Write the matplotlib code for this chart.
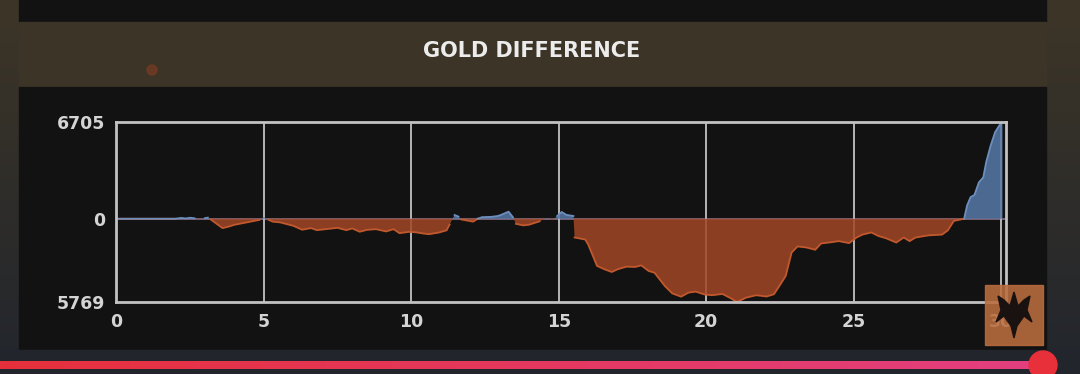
import numpy as np
import matplotlib.pyplot as plt
from matplotlib.patches import Rectangle, Circle, Polygon

# Gold difference (blue side minus red side) by game minute
minutes = [0, 2.0, 2.2, 2.35, 2.5, 2.65, 2.8, 3.0, 3.1, 3.2, 3.4, 3.6, 3.8, 4.0, 4.3, 4.6, 4.85,
           5.0, 5.15, 5.3, 5.55, 6.0, 6.3, 6.6, 6.8, 7.1, 7.5, 7.8, 8.0, 8.25, 8.5, 8.8, 9.15,
           9.4, 9.6, 9.95, 10.2, 10.4, 10.6, 10.95, 11.2, 11.3, 11.47, 11.6, 11.7, 12.1, 12.25,
           12.4, 12.7, 12.9, 13.0, 13.3, 13.45, 13.55, 13.8, 14.0, 14.35, 14.6, 14.8, 14.95,
           15.1, 15.26, 15.5, 15.54, 15.9, 16.0, 16.3, 16.55, 16.8, 17.0, 17.3, 17.6, 17.8,
           18.05, 18.25, 18.6, 18.85, 19.15, 19.4, 19.65, 19.95, 20.2, 20.55, 20.8, 21.05,
           21.35, 21.7, 22.05, 22.3, 22.5, 22.7, 22.9, 23.1, 23.4, 23.7, 23.9, 24.2, 24.5,
           24.85, 25.1, 25.3, 25.6, 25.85, 26.1, 26.45, 26.7, 26.9, 27.1, 27.55, 28.0, 28.2,
           28.4, 28.75, 28.85, 28.97, 29.1, 29.25, 29.4, 29.5, 29.65, 29.8, 29.95, 30.05]
gold_diff = [0, 0, 60, 20, 70, 30, -30, 40, 80, -50, -350, -650, -550, -420, -300, -180, -80,
             110, -60, -200, -250, -490, -760, -650, -790, -720, -630, -790, -670, -900, -770,
             -720, -880, -720, -1000, -900, -950, -1020, -1070, -950, -800, -400, 260, 150, -50,
             -200, 0, 110, 130, 180, 230, 490, 100, -350, -460, -410, -180, 50, -100, 190, 470,
             270, 190, -1300, -1440, -1780, -3270, -3500, -3690, -3500, -3320, -3340, -3230,
             -3620, -3740, -4660, -5170, -5400, -5120, -5050, -5250, -5300, -5210, -5470, -5769,
             -5470, -5300, -5390, -5230, -4610, -3960, -2340, -1920, -1990, -2150, -1710, -1640,
             -1550, -1690, -1300, -1100, -950, -1200, -1350, -1650, -1300, -1550, -1300, -1150,
             -1100, -800, -150, 0, 920, 1500, 1650, 2520, 2870, 3940, 5070, 6000, 6480, 6705]
y_ticks = [-5769, 0, 6705]
y_tick_labels = ['5769', '0', '6705']
x_ticks = [0, 5, 10, 15, 20, 25, 30]

W, H = 1080, 374
fig = plt.figure(figsize=(W / 100, H / 100), dpi=100)

# background layer in pixel coordinates
bg = fig.add_axes([0, 0, 1, 1], zorder=0)
bg.set_xlim(0, W)
bg.set_ylim(H, 0)
bg.axis('off')
grad = np.linspace(0, 1, 256)[:, None]
top_c = np.array([0x3d, 0x35, 0x27]) / 255
bot_c = np.array([0x22, 0x26, 0x2d]) / 255
img = top_c[None, None, :] * (1 - grad[..., None]) + bot_c[None, None, :] * grad[..., None]
bg.imshow(img, extent=[0, W, H, 0], aspect='auto')
bg.add_patch(Rectangle((19, 0), 1027, 22, color='#121212'))
bg.add_patch(Rectangle((19, 22), 1027, 64, color='#3c3427'))
bg.add_patch(Rectangle((19, 87), 1027, 263, color='#121212'))
bg.add_patch(Rectangle((0, 350), W, 24, color='#22262c'))
bg.add_patch(Circle((152, 70), 5, color='#7a3a22', alpha=0.7))
bg.text(532, 51, 'GOLD DIFFERENCE', color='#ececec', fontsize=15, fontweight='bold',
        ha='center', va='center', family='DejaVu Sans')

# chart
ax = fig.add_axes([116.4 / W, 1 - 302 / H, (1006 - 116.4) / W, (302 - 122) / H], zorder=1)
ax.set_facecolor('none')
t = np.array(minutes)
v = np.array(gold_diff)
ax.grid(axis='x', color='#b5b5b5', lw=1.4, zorder=0)
ax.axhline(0, color='#8a6f86', lw=1.2, zorder=1)
ax.fill_between(t, v, 0, where=v <= 0, interpolate=True, color='#a14725', alpha=0.85, lw=0, zorder=2)
ax.fill_between(t, v, 0, where=v >= 0, interpolate=True, color='#5779a8', alpha=0.85, lw=0, zorder=2)
ax.plot(t, np.ma.masked_where(v > 0, v), color='#c2582d', lw=1.3, zorder=3)
ax.plot(t, np.ma.masked_where(v < 0, v), color='#6d8fbd', lw=1.3, zorder=3)
ax.set_xlim(0, 30.17)
ax.set_ylim(-5769, 6705)
ax.set_xticks(x_ticks)
ax.set_yticks(y_ticks)
ax.set_yticklabels(y_tick_labels)
for s in ax.spines.values():
    s.set_color('#c2c2c2')
    s.set_linewidth(2)
    s.set_zorder(4)
ax.tick_params(length=0, colors='#d4d4d4', labelsize=12.5, pad=8)
for lab in ax.get_xticklabels() + ax.get_yticklabels():
    lab.set_fontweight('bold')

# overlay: logo box and progress bar
ov = fig.add_axes([0, 0, 1, 1], zorder=3)
ov.set_xlim(0, W)
ov.set_ylim(H, 0)
ov.axis('off')
ov.patch.set_alpha(0)
ov.add_patch(Rectangle((985, 285), 58, 60, color='#bb6d3e', alpha=0.88))
crest = [(1014, 292), (1018, 306), (1024, 300), (1030, 296), (1027, 310), (1032, 322),
         (1024, 316), (1017, 326), (1014, 338), (1011, 326), (1004, 316), (996, 322),
         (1001, 310), (998, 296), (1004, 300), (1010, 306)]
ov.add_patch(Polygon(crest, closed=True, color='#1a1210'))
bar = np.linspace(0, 1, 256)[None, :, None]
c0 = np.array([0xe6, 0x30, 0x3c]) / 255
c1 = np.array([0xe3, 0x40, 0x80]) / 255
ov.imshow(c0 * (1 - bar) + c1 * bar, extent=[0, 1043, 369, 361], aspect='auto')
ov.add_patch(Circle((1043, 365), 14, color='#e8303a'))
ov.set_xlim(0, W)
ov.set_ylim(H, 0)

fig.savefig('out.png', dpi=100)
